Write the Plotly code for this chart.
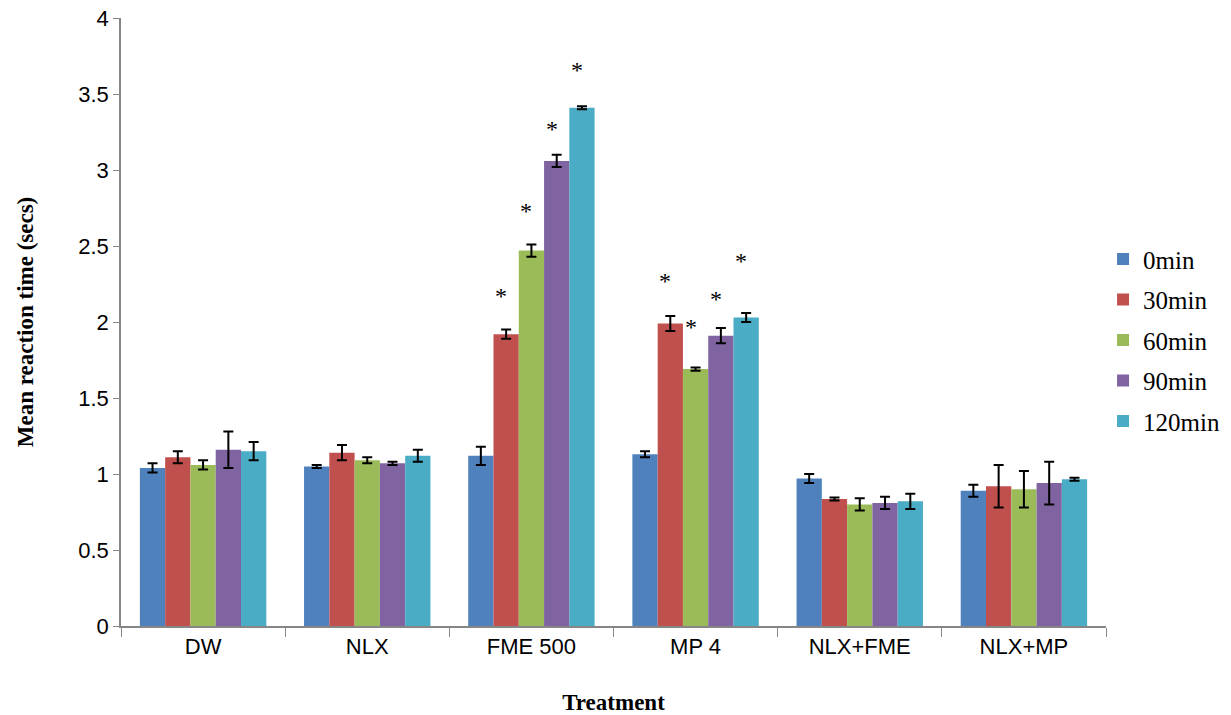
import plotly.graph_objects as go

categories = ["DW", "NLX", "FME 500", "MP 4", "NLX+FME", "NLX+MP"]
series_names = ["0min", "30min", "60min", "90min", "120min"]
colors = ["#4F81BD", "#C0504D", "#9BBB59", "#8064A2", "#4BACC6"]

vals_0 = [1.04, 1.05, 1.12, 1.13, 0.97, 0.89]
vals_30 = [1.11, 1.14, 1.92, 1.99, 0.835, 0.92]
vals_60 = [1.06, 1.09, 2.47, 1.69, 0.80, 0.90]
vals_90 = [1.16, 1.07, 3.06, 1.91, 0.81, 0.94]
vals_120 = [1.15, 1.12, 3.41, 2.03, 0.82, 0.965]

err_0 = [0.03, 0.01, 0.06, 0.02, 0.03, 0.04]
err_30 = [0.04, 0.05, 0.03, 0.05, 0.01, 0.14]
err_60 = [0.03, 0.02, 0.04, 0.01, 0.04, 0.12]
err_90 = [0.12, 0.01, 0.04, 0.05, 0.04, 0.14]
err_120 = [0.06, 0.04, 0.01, 0.03, 0.05, 0.01]

values = [vals_0, vals_30, vals_60, vals_90, vals_120]
errors = [err_0, err_30, err_60, err_90, err_120]

# significance asterisks: (category, series index, label height)
star_cat = ["FME 500", "FME 500", "FME 500", "FME 500", "MP 4", "MP 4", "MP 4", "MP 4"]
star_series = [1, 2, 3, 4, 1, 2, 3, 4]
star_y = [2.17, 2.73, 3.27, 3.66, 2.27, 1.97, 2.15, 2.40]

bargap = 0.23

fig = go.Figure()
for i, name in enumerate(series_names):
    fig.add_trace(go.Bar(
        x=categories, y=values[i], name=name,
        marker=dict(color=colors[i], line=dict(width=0)),
        error_y=dict(type="data", array=errors[i], visible=True,
                     color="black", thickness=2, width=5),
        legendgroup=name,
    ))

w = (1 - bargap) / len(series_names)
for c, s, y in zip(star_cat, star_series, star_y):
    idx = categories.index(c)
    xpos = idx - (1 - bargap) / 2 + (s + 0.5) * w - 0.03
    fig.add_annotation(x=xpos, y=y, text="*", showarrow=False,
                       xref="x", yref="y", yanchor="middle",
                       font=dict(family="Liberation Serif", size=24, color="black"))

fig.update_layout(
    width=1231, height=715,
    barmode="group", bargap=bargap, bargroupgap=0,
    plot_bgcolor="white", paper_bgcolor="white",
    margin=dict(l=121, r=125, t=18, b=89, autoexpand=False),
    legend=dict(x=0.997, xanchor="left", y=0.47, yanchor="middle",
                font=dict(family="Liberation Serif", size=25, color="black"),
                tracegroupgap=5, itemwidth=30),
    xaxis=dict(
        automargin=False,
        title=dict(text="<b>Treatment</b>", standoff=37,
                   font=dict(family="Liberation Serif", size=23, color="black")),
        showline=True, linecolor="#868686", linewidth=1.5,
        ticks="outside", tickson="boundaries", ticklen=9, tickcolor="#868686",
        tickfont=dict(family="Liberation Sans", size=22, color="black"),
        ticklabeloverflow="allow",
    ),
    yaxis=dict(
        automargin=False,
        title=dict(text="<b>Mean reaction time (secs)</b>", standoff=38,
                   font=dict(family="Liberation Serif", size=23, color="black")),
        range=[0, 4], dtick=0.5, showgrid=False, zeroline=False,
        showline=True, linecolor="#868686", linewidth=1.5,
        ticks="outside", ticklen=6, tickcolor="#868686",
        tickfont=dict(family="Liberation Sans", size=22, color="black"),
        ticklabeloverflow="allow",
    ),
)

fig.write_html("out.html", config={"displayModeBar": False},
               post_script="document.body.style.margin='0';")
